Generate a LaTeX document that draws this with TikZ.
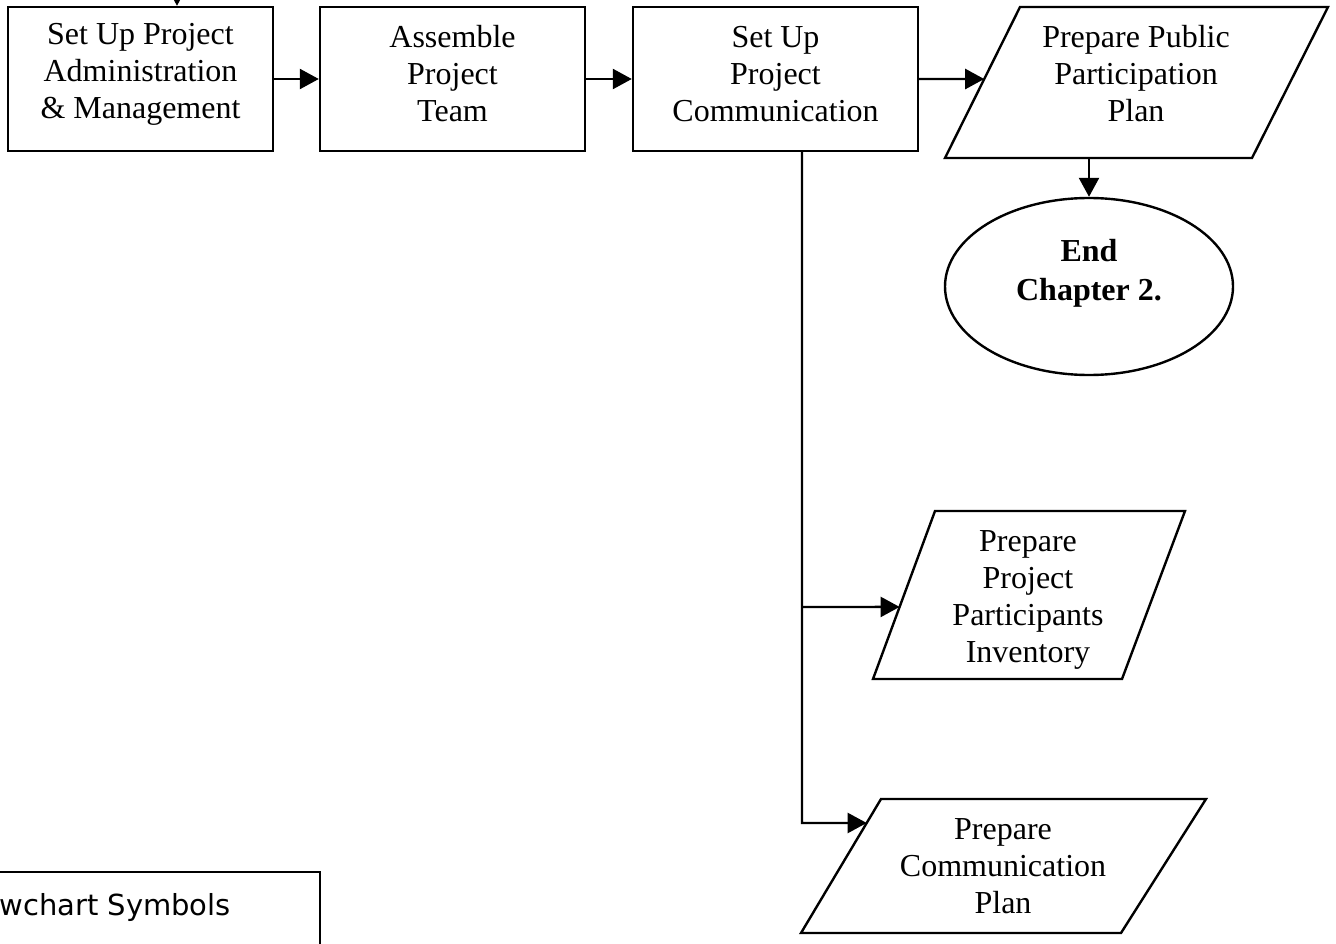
\documentclass[tikz,border=0pt]{standalone}
\usepackage{fontspec}
\setmainfont{Liberation Serif}
\newfontfamily\legendfont{DejaVu Sans}
\usetikzlibrary{arrows.meta,calc,shapes.geometric}
\begin{document}
\begin{tikzpicture}[x=1pt,y=-1pt,
  line width=2.4pt,
  every node/.style={font=\fontsize{32}{37}\selectfont, align=center},
  stepbox/.style={draw, rectangle, minimum height=144pt, inner sep=0pt},
  plain/.style={inner sep=0pt},
  flow/.style={-{Triangle[length=19pt,width=20pt]}},
  ]
\useasboundingbox (0,0) rectangle (1336,944);

% process boxes along the top row
\node[stepbox, minimum width=265pt] (b1) at (140.5,79) {};
\node[stepbox, minimum width=265pt] (b2) at (452.5,79) {};
\node[stepbox, minimum width=285pt] (b3) at (775.5,79) {};
\node[plain] (b1t) at (140.5,74) {Set Up Project\\Administration\\\& Management};
\node[plain] (b2t) at (452.5,74) {Assemble\\Project\\Team};
\node[plain] (b3t) at (775.5,74) {Set Up\\Project\\Communication};

% data (parallelogram) outlines
\coordinate (p1tl) at (1020,7);  \coordinate (p1tr) at (1328,7);
\coordinate (p1br) at (1252,158); \coordinate (p1bl) at (945,158);
\coordinate (p2tl) at (935,511);  \coordinate (p2tr) at (1185,511);
\coordinate (p2br) at (1122,679); \coordinate (p2bl) at (873,679);
\coordinate (p3tl) at (881,799);  \coordinate (p3tr) at (1206,799);
\coordinate (p3br) at (1121,933); \coordinate (p3bl) at (801,933);
\draw (p1tl) -- (p1tr) -- (p1br) -- (p1bl) -- cycle;
\draw (p2tl) -- (p2tr) -- (p2br) -- (p2bl) -- cycle;
\draw (p3tl) -- (p3tr) -- (p3br) -- (p3bl) -- cycle;
\node[plain] (p1) at (1136,74) {Prepare Public\\Participation\\Plan};
\node[plain] (p2) at (1028,600) {Prepare\\Project\\Participants\\Inventory};
\node[plain] (p3) at (1003,866) {Prepare\\Communication\\Plan};

% terminator
\node[draw, ellipse, minimum width=288pt, minimum height=177pt, inner sep=0pt] (e) at (1089,286.5) {};
\node[plain, font=\bfseries\fontsize{32}{39}\selectfont] (et) at (1089,273) {End\\Chapter 2.};

% legend panel
\node[draw, rectangle, anchor=north east, minimum width=400pt, minimum height=150pt] (legend) at (321,871) {};
\node[plain, font=\legendfont\fontsize{29}{35}\selectfont, anchor=base east] (lt) at (232,915) {wchart Symbols};

% connectors
\coordinate (in1) at (177,-40);
\coordinate (e1) at ($(p1tl)!0.477!(p1bl)$);
\coordinate (e2) at ($(p2tl)!0.571!(p2bl)$);
\coordinate (e3) at ($(p3tl)!0.179!(p3bl)$);
\coordinate (jA) at (802,607);
\coordinate (jB) at (802,823);

\draw[flow] (in1) -- (b1.north -| in1);
\draw[flow] (b1.east) -- (b2.west);
\draw[flow] (b2.east) -- (b3.west);
\draw[flow] (b3.east) -- (e1);
\draw[flow] (e.north |- p1bl) -- (e.north);
\draw[flow] (b3.south -| jA) -- (jB) -- (e3);
\draw[flow] (jA) -- (e2);
\end{tikzpicture}
\end{document}
